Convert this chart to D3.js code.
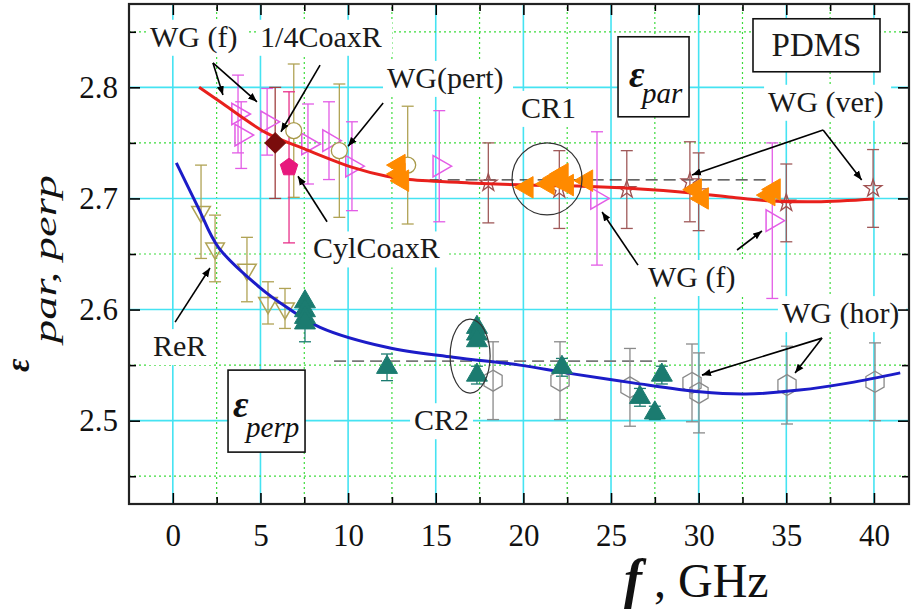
<!DOCTYPE html>
<html>
<head>
<meta charset="utf-8">
<script src="https://cdn.jsdelivr.net/npm/d3@7"></script>
<style>
body { margin: 0; background: #fff; font-family: "Liberation Serif", "Times New Roman", serif; }
text, tspan { font-family: "Liberation Serif", "Times New Roman", serif !important; }
</style>
</head>
<body>
<div id="chart"></div>
<script>
// ---- data ----
// fit curves
const fitParF = [1.5, 2.7, 5.33, 7.6, 10.25, 12.2, 13.5, 16.9, 20.35, 23.4, 26.2, 29.6, 31.9, 33.9, 36.7, 40];
const fitParV = [2.800, 2.787, 2.759, 2.744, 2.728, 2.720, 2.717, 2.714, 2.712, 2.711, 2.709, 2.705, 2.701, 2.698, 2.697, 2.6995];
const fitPerpF = [0.2, 1.44, 2.6, 4.95, 6.5, 8.4, 12.2, 16, 19.8, 22.45, 26.25, 30.05, 32.7, 35.75, 38.6, 41.5];
const fitPerpV = [2.732, 2.692, 2.656, 2.620, 2.602, 2.584, 2.566, 2.557, 2.550, 2.543, 2.534, 2.526, 2.524, 2.5275, 2.534, 2.543];

// WG (f) - open right triangles
const wgfF = [3.72, 3.9, 5.38, 7.71, 8.91, 10.22, 15.2, 24.2, 34.2];
const wgfV = [2.776, 2.757, 2.769, 2.749, 2.752, 2.729, 2.729, 2.700, 2.680];
const wgfE = [0.035, 0.030, 0.030, 0.036, 0.035, 0.040, 0.050, 0.060, 0.070];

// WG(pert) - open circles
const pertF = [6.9, 9.5, 13.4];
const pertV = [2.761, 2.743, 2.730];
const pertE = [0.060, 0.060, 0.053];

// 1/4CoaxR - diamond, CylCoaxR - pentagon
const coaxF = [5.84], coaxV = [2.750], coaxE = [0.050];
const cylF = [6.63], cylV = [2.728], cylE = [0.068];

// CR1 - filled left triangles
const cr1F = [12.9, 12.9, 13.1, 20.2, 21.4, 21.8, 22.2, 22.5, 23.6, 29.8, 30.2, 34.0, 34.3];
const cr1V = [2.730, 2.722, 2.716, 2.710, 2.713, 2.718, 2.722, 2.712, 2.716, 2.708, 2.700, 2.703, 2.708];

// WG (ver) - open stars
const verF = [18.0, 22.05, 25.9, 29.5, 30.0, 35.0, 39.95];
const verV = [2.714, 2.708, 2.708, 2.715, 2.706, 2.696, 2.709];
const verE = [0.036, 0.035, 0.035, 0.036, 0.035, 0.035, 0.035];

// ReR - open down triangles
const rerF = [1.61, 2.41, 4.23, 5.43, 6.40];
const rerV = [2.688, 2.655, 2.636, 2.606, 2.601];
const rerE = [0.042, 0.030, 0.029, 0.019, 0.018];

// CR2 - filled up triangles
const cr2F = [7.54, 7.54, 7.54, 7.54, 12.22, 17.35, 17.35, 17.35, 17.35, 22.2, 26.65, 27.5, 27.9];
const cr2V = [2.607, 2.599, 2.593, 2.588, 2.548, 2.584, 2.578, 2.572, 2.541, 2.548, 2.521, 2.507, 2.541];
const cr2E = [0, 0, 0, 0.017, 0.012, 0, 0, 0, 0.008, 0.008, 0.008, 0.006, 0.008];

// WG (hor) - open hexagons
const horF = [18.27, 22.09, 26.08, 29.62, 30.02, 35.04, 40.06];
const horV = [2.536, 2.536, 2.530, 2.534, 2.525, 2.532, 2.535];
const horE = [0.035, 0.035, 0.035, 0.035, 0.036, 0.035, 0.035];

// mean values (dashed)
const meanPar = {f0: 12.6, f1: 33.9, v: 2.7167};
const meanPerp = {f0: 9.2, f1: 28.2, v: 2.5536};

// axis ticks
const xMajor = [0, 5, 10, 15, 20, 25, 30, 35, 40];
const xMinor = [2.5, 7.5, 12.5, 17.5, 22.5, 27.5, 32.5, 37.5];
const yMajor = [2.5, 2.6, 2.7, 2.8];
const yMinor = [2.45, 2.55, 2.65, 2.75, 2.85];

const width = 912, height = 611;
const x = d3.scaleLinear().domain([-2.5, 42]).range([129, 909]);
const y = d3.scaleLinear().domain([2.425, 2.875]).range([504, 4]);

const svg = d3.select("#chart").append("svg")
    .attr("width", width).attr("height", height)
    .style("display", "block");

const defs = svg.append("defs");
defs.append("marker").attr("id", "arr")
    .attr("viewBox", "0 0 10 10").attr("refX", 10).attr("refY", 5)
    .attr("markerWidth", 9).attr("markerHeight", 9).attr("orient", "auto")
    .attr("markerUnits", "userSpaceOnUse")
    .append("path").attr("d", "M0,1 L10,5 L0,9 Z").attr("fill", "#000");

// custom polygons for d3.symbol (size = radius^2)
function polygon(n, rot) {
    return {
        draw(ctx, size) {
            const r = Math.sqrt(size);
            for (let i = 0; i < n; i++) {
                const a = rot + i * 2 * Math.PI / n;
                if (i === 0) ctx.moveTo(r * Math.cos(a), r * Math.sin(a));
                else ctx.lineTo(r * Math.cos(a), r * Math.sin(a));
            }
            ctx.closePath();
        }
    };
}
const symHex = polygon(6, -Math.PI / 2);
const symPent = polygon(5, -Math.PI / 2);

// Grid
const grid = svg.append("g");
grid.selectAll(".gx").data(xMajor).enter().append("line")
    .attr("x1", d => x(d)).attr("x2", d => x(d)).attr("y1", y.range()[0]).attr("y2", y.range()[1])
    .attr("stroke", "#45e3f2").attr("stroke-width", 1.6);
grid.selectAll(".gxm").data(xMinor).enter().append("line")
    .attr("x1", d => x(d)).attr("x2", d => x(d)).attr("y1", y.range()[0]).attr("y2", y.range()[1])
    .attr("stroke", "#3cdc3c").attr("stroke-width", 1.2).attr("stroke-dasharray", "2,3");
grid.selectAll(".gy").data(yMajor).enter().append("line")
    .attr("y1", d => y(d)).attr("y2", d => y(d)).attr("x1", x.range()[0]).attr("x2", x.range()[1])
    .attr("stroke", "#45e3f2").attr("stroke-width", 1.6);
grid.selectAll(".gym").data(yMinor).enter().append("line")
    .attr("y1", d => y(d)).attr("y2", d => y(d)).attr("x1", x.range()[0]).attr("x2", x.range()[1])
    .attr("stroke", "#3cdc3c").attr("stroke-width", 1.2).attr("stroke-dasharray", "2,3");

const bgLayer = svg.append("g");
const dataLayer = svg.append("g");
const annLayer = svg.append("g");

// dashed mean lines
dataLayer.append("line")
    .attr("x1", x(meanPar.f0)).attr("x2", x(meanPar.f1)).attr("y1", y(meanPar.v)).attr("y2", y(meanPar.v))
    .attr("stroke", "#333").attr("stroke-width", 1.3).attr("stroke-dasharray", "12,6");
dataLayer.append("line")
    .attr("x1", x(meanPerp.f0)).attr("x2", x(meanPerp.f1)).attr("y1", y(meanPerp.v)).attr("y2", y(meanPerp.v))
    .attr("stroke", "#777").attr("stroke-width", 1.6).attr("stroke-dasharray", "12,6");

function zip(fs, vs, es) {
    return fs.map((f, i) => ({f, v: vs[i], e: es ? es[i] : 0}));
}

function errorBars(data, color) {
    const g = dataLayer.append("g").attr("stroke", color).attr("stroke-width", 1.3);
    data.filter(d => d.e > 0).forEach(d => {
        const cx = x(d.f);
        g.append("line").attr("x1", cx).attr("x2", cx).attr("y1", y(d.v - d.e)).attr("y2", y(d.v + d.e));
        g.append("line").attr("x1", cx - 6).attr("x2", cx + 6).attr("y1", y(d.v - d.e)).attr("y2", y(d.v - d.e));
        g.append("line").attr("x1", cx - 6).attr("x2", cx + 6).attr("y1", y(d.v + d.e)).attr("y2", y(d.v + d.e));
    });
}

function markers(data, type, size, rot, fill, stroke, sw) {
    dataLayer.append("g").selectAll("path").data(data).enter().append("path")
        .attr("d", d3.symbol().type(type).size(size))
        .attr("transform", d => `translate(${x(d.f)},${y(d.v)}) rotate(${rot})`)
        .attr("fill", fill).attr("stroke", stroke).attr("stroke-width", sw);
}

const wgf = zip(wgfF, wgfV, wgfE);
const pert = zip(pertF, pertV, pertE);
const coax = zip(coaxF, coaxV, coaxE);
const cyl = zip(cylF, cylV, cylE);
const cr1 = zip(cr1F, cr1V);
const ver = zip(verF, verV, verE);
const rer = zip(rerF, rerV, rerE);
const cr2 = zip(cr2F, cr2V, cr2E);
const hor = zip(horF, horV, horE);

// error bars
errorBars(wgf, "#e35ce6");
errorBars(pert, "#b0a355");
errorBars(coax, "#a04040");
errorBars(cyl, "#e8318a");
errorBars(ver, "#a05a5a");
errorBars(rer, "#b0a355");
errorBars(cr2, "#1b7b70");
errorBars(hor, "#8a8a8a");

// open markers
markers(wgf, d3.symbolTriangle, 200, 90, "none", "#e35ce6", 1.5);
markers(pert, d3.symbolCircle, 200, 0, "#fff", "#a89a4a", 1.3);
markers(ver, d3.symbolStar, 95, 0, "none", "#a05050", 1.3);
markers(rer, d3.symbolTriangle, 150, 180, "none", "#b0a355", 1.5);
markers(hor, symHex, 110, 0, "none", "#8a8a8a", 1.3);

// fit curves
const line = d3.line().x(d => x(d.f)).y(d => y(d.v)).curve(d3.curveCatmullRom);
dataLayer.append("path").datum(zip(fitParF, fitParV))
    .attr("d", line).attr("fill", "none").attr("stroke", "#e8201c").attr("stroke-width", 3);
dataLayer.append("path").datum(zip(fitPerpF, fitPerpV))
    .attr("d", line).attr("fill", "none").attr("stroke", "#1c1cc8").attr("stroke-width", 3);

// filled markers
markers(cr1, d3.symbolTriangle, 200, -90, "#ff8a00", "#ff8a00", 1);
markers(cr2, d3.symbolTriangle, 190, 0, "#1b7b70", "#1b7b70", 1);
markers(coax, d3.symbolSquare, 210, 45, "#7a0c0c", "#7a0c0c", 1);
markers(cyl, symPent, 85, 0, "#e8177d", "#e8177d", 1);

// circles around CR1 / CR2
dataLayer.append("ellipse").attr("cx", x(21.35)).attr("cy", y(2.7176)).attr("rx", 35).attr("ry", 36)
    .attr("fill", "none").attr("stroke", "#333").attr("stroke-width", 1.2);
dataLayer.append("ellipse").attr("cx", x(16.96)).attr("cy", y(2.5581)).attr("rx", 20).attr("ry", 37)
    .attr("fill", "none").attr("stroke", "#333").attr("stroke-width", 1.2);

// Frame and axes
const x0 = x.range()[0], x1 = x.range()[1], y0 = y.range()[0], y1 = y.range()[1];
function tickAxis(axis, tr) {
    const g = svg.append("g").attr("transform", tr).call(axis);
    g.select(".domain").remove();
    g.attr("font-family", null);
    g.selectAll("line").attr("stroke", "#000").attr("stroke-width", 1.6);
    return g;
}
const xb = tickAxis(d3.axisBottom(x).tickValues(xMajor).tickSize(-11).tickPadding(20).tickFormat(d3.format("d")), `translate(0,${y0})`);
xb.selectAll("text").attr("font-size", 31).attr("fill", "#111");
tickAxis(d3.axisBottom(x).tickValues(xMinor).tickSize(-7).tickFormat(""), `translate(0,${y0})`);
tickAxis(d3.axisTop(x).tickValues(xMajor).tickSize(-11).tickFormat(""), `translate(0,${y1})`);
tickAxis(d3.axisTop(x).tickValues(xMinor).tickSize(-7).tickFormat(""), `translate(0,${y1})`);
const yl = tickAxis(d3.axisLeft(y).tickValues(yMajor).tickSize(-11).tickPadding(11).tickFormat(d3.format(".1f")), `translate(${x0},0)`);
yl.selectAll("text").attr("font-size", 31).attr("fill", "#111");
tickAxis(d3.axisLeft(y).tickValues(yMinor).tickSize(-7).tickFormat(""), `translate(${x0},0)`);
tickAxis(d3.axisRight(y).tickValues(yMajor).tickSize(-11).tickFormat(""), `translate(${x1},0)`);
tickAxis(d3.axisRight(y).tickValues(yMinor).tickSize(-7).tickFormat(""), `translate(${x1},0)`);
svg.append("rect").attr("x", x0).attr("y", y1).attr("width", x1 - x0).attr("height", y0 - y1)
    .attr("fill", "none").attr("stroke", "#222").attr("stroke-width", 2.2);

// axis titles
const xt = svg.append("text").attr("x", 624).attr("y", 597).attr("font-size", 48).attr("fill", "#111");
xt.append("tspan").attr("font-weight", "bold").attr("font-style", "italic").attr("font-size", 54).text("f");
xt.append("tspan").text(" , GHz");

const yt = svg.append("g").attr("transform", "translate(29,372) rotate(-90)");
yt.append("text").attr("font-size", 33).attr("font-weight", "bold").attr("font-style", "italic")
    .attr("fill", "#111").text("ε");
yt.append("text").attr("x", 29).attr("y", 27).attr("font-size", 32).attr("font-style", "italic")
    .attr("fill", "#111").attr("textLength", 168).attr("lengthAdjust", "spacingAndGlyphs").text("par, perp");

// annotations: label text with white background (w = label width in px), arrows
const labels = [
    {t: "WG (f)", f: -1.30, v: 2.8365, w: 92},
    {t: "1/4CoaxR", f: 4.98, v: 2.8365, w: 128},
    {t: "WG(pert)", f: 12.22, v: 2.7995, w: 122},
    {t: "CylCoaxR", f: 8.0, v: 2.646, w: 132},
    {t: "CR1", f: 19.87, v: 2.7725, w: 54},
    {t: "WG (ver)", f: 33.96, v: 2.778, w: 119},
    {t: "WG (f)", f: 27.11, v: 2.6203, w: 92},
    {t: "WG (hor)", f: 34.75, v: 2.5878, w: 120},
    {t: "ReR", f: -1.13, v: 2.5581, w: 55},
    {t: "CR2", f: 13.76, v: 2.4914, w: 55}
];
labels.forEach(l => {
    bgLayer.append("rect").attr("x", x(l.f) - 4).attr("y", y(l.v) - 27)
        .attr("width", l.w + 8).attr("height", 36).attr("fill", "#fff");
    annLayer.append("text").attr("x", x(l.f)).attr("y", y(l.v))
        .attr("font-size", 30).attr("fill", "#1a1a1a").text(l.t);
});

const arrows = [
    [2.29, 2.822, 2.86, 2.793], [2.29, 2.822, 4.80, 2.787],
    [8.40, 2.820, 6.17, 2.760],
    [12.0, 2.786, 10.0, 2.747],
    [8.80, 2.679, 7.14, 2.720],
    [37.1, 2.7617, 29.62, 2.7212], [37.1, 2.7617, 39.3, 2.7167],
    [26.54, 2.640, 24.49, 2.6878],
    [32.19, 2.6536, 33.61, 2.6707],
    [37.04, 2.5743, 30.19, 2.541], [37.04, 2.5743, 35.5, 2.5428],
    [0.13, 2.5887, 2.12, 2.6374]
];
annLayer.selectAll(".arrow").data(arrows).enter().append("line")
    .attr("x1", d => x(d[0])).attr("y1", d => y(d[1]))
    .attr("x2", d => x(d[2])).attr("y2", d => y(d[3]))
    .attr("stroke", "#000").attr("stroke-width", 1.6).attr("marker-end", "url(#arr)");

// boxed labels
function epsBox(f0, v0, w, h, sub, ex, ey, sx, sy) {
    const bx = x(f0), by = y(v0);
    annLayer.append("rect").attr("x", bx).attr("y", by).attr("width", w).attr("height", h)
        .attr("fill", "#fff").attr("stroke", "#111").attr("stroke-width", 1.6);
    annLayer.append("text").attr("x", bx + ex).attr("y", by + ey).attr("font-size", 38)
        .attr("font-weight", "bold").attr("font-style", "italic").attr("fill", "#111").text("ε");
    annLayer.append("text").attr("x", bx + sx).attr("y", by + sy).attr("font-size", 29)
        .attr("font-style", "italic").attr("fill", "#111").text(sub);
}
epsBox(25.40, 2.8455, 71, 80, "par", 11, 50, 24, 66);
epsBox(3.15, 2.5455, 77, 82, "perp", 5, 47, 18, 67);

const pd = annLayer.append("g").attr("transform", `translate(${x(33.10)},${y(2.8617)})`);
pd.append("rect").attr("width", 127).attr("height", 53)
    .attr("fill", "#fff").attr("stroke", "#111").attr("stroke-width", 1.6);
pd.append("text").attr("x", 63.5).attr("y", 37).attr("text-anchor", "middle")
    .attr("font-size", 33).attr("fill", "#1a1a1a").text("PDMS");
</script>
</body>
</html>
